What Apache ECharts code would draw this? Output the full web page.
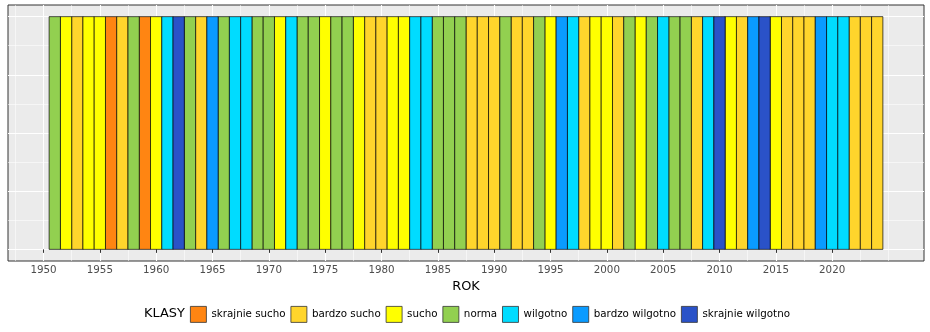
<!DOCTYPE html>
<html>
<head>
<meta charset="utf-8">
<script src="https://cdn.jsdelivr.net/npm/echarts@6/dist/echarts.min.js"></script>
<style>html,body{margin:0;padding:0;background:#fff}#c{width:930px;height:332px}</style>
</head>
<body>
<div id="c"></div>
<script>
// Class names (legend order) and colours
const classNames = ['skrajnie sucho', 'bardzo sucho', 'sucho', 'norma', 'wilgotno', 'bardzo wilgotno', 'skrajnie wilgotno'];
const classColors = ['#FF8512', '#FFD52C', '#FFFF00', '#92D050', '#00DCFF', '#0A9BFF', '#2A52C8'];
// Years and their class index (0..6)
const years = [];
for (let y = 1951; y <= 2024; y++) years.push(y);
const yearClass = [
  3, 2, 1, 2, 2, 0, 1, 3, 0, 2,   // 1951-1960
  4, 6, 3, 1, 5, 3, 4, 4, 3, 3,   // 1961-1970
  2, 4, 3, 3, 2, 3, 3, 2, 1, 1,   // 1971-1980
  2, 2, 4, 4, 3, 3, 3, 1, 1, 1,   // 1981-1990
  3, 1, 1, 3, 2, 5, 4, 1, 2, 2,   // 1991-2000
  1, 3, 2, 3, 4, 3, 3, 1, 4, 6,   // 2001-2010
  2, 1, 5, 6, 2, 1, 1, 1, 5, 4,   // 2011-2020
  4, 1, 1, 1                      // 2021-2024
];
const barValue = 1;
const xMajor = [1950, 1955, 1960, 1965, 1970, 1975, 1980, 1985, 1990, 1995, 2000, 2005, 2010, 2015, 2020];
const xMinor = [1947.5, 1952.5, 1957.5, 1962.5, 1967.5, 1972.5, 1977.5, 1982.5, 1987.5, 1992.5, 1997.5, 2002.5, 2007.5, 2012.5, 2017.5, 2022.5, 2025];
const yMajor = [0, 0.25, 0.5, 0.75, 1];
const yMinor = [0.125, 0.375, 0.625, 0.875];

const FONT = 'DejaVu Sans';

function renderBar(params, api) {
  const yr = api.value(0);
  const p0 = api.coord([yr - 0.5, api.value(1)]);
  const p1 = api.coord([yr + 0.5, 0]);
  return {
    type: 'rect',
    shape: { x: p0[0], y: p0[1], width: p1[0] - p0[0], height: p1[1] - p0[1] },
    style: { fill: api.visual('color'), stroke: 'rgba(0,0,0,0.85)', lineWidth: 0.8 }
  };
}

const series = classNames.map((name, ci) => ({
  type: 'custom',
  name: name,
  xAxisIndex: 0,
  yAxisIndex: 0,
  itemStyle: { color: classColors[ci] },
  renderItem: renderBar,
  encode: { x: 0, y: 1 },
  data: years.filter((y, i) => yearClass[i] === ci).map(y => [y, barValue])
}));

const xCommon = { type: 'value', min: 1946.85, max: 2028.15, axisLine: { show: false } };
const yCommon = { type: 'value', min: -0.05, max: 1.05, axisLine: { show: false }, axisLabel: { show: false } };

const option = {
  animation: false,
  title: {
    text: 'KLASY', left: 144, top: 307, padding: 0,
    textStyle: { fontFamily: FONT, fontSize: 12.9, fontWeight: 'normal', color: '#000' }
  },
  legend: {
    left: 190, top: 306, padding: 0,
    icon: 'rect', itemWidth: 16, itemHeight: 16, itemGap: 5,
    textStyle: { fontFamily: FONT, fontSize: 10.3, color: '#000' },
    selectedMode: false,
    data: classNames.map((n, i) => ({ name: n, itemStyle: { color: classColors[i], borderColor: '#333', borderWidth: 0.8 } }))
  },
  grid: {
    left: 8, right: 6, top: 5, bottom: 71,
    show: true, backgroundColor: '#EBEBEB', borderColor: '#333', borderWidth: 1
  },
  xAxis: [
    Object.assign({}, xCommon, {
      name: 'ROK', nameLocation: 'middle', nameGap: 14,
      nameTextStyle: { fontFamily: FONT, fontSize: 12.9, color: '#000' },
      axisTick: { show: true, length: 3.5, lineStyle: { color: '#333', width: 1 }, customValues: xMajor },
      axisLabel: { show: true, margin: 4, fontFamily: FONT, fontSize: 10.3, color: '#4D4D4D', customValues: xMajor, formatter: v => String(v) },
      splitLine: { show: true, lineStyle: { color: '#FFFFFF', width: 1.1 } }
    }),
    Object.assign({}, xCommon, {
      axisTick: { show: false, customValues: xMinor },
      axisLabel: { show: false, customValues: xMinor },
      splitLine: { show: true, lineStyle: { color: '#FFFFFF', width: 0.55 } }
    })
  ],
  yAxis: [
    Object.assign({}, yCommon, {
      axisTick: { show: false, customValues: yMajor },
      axisLabel: { show: false, customValues: yMajor },
      splitLine: { show: true, lineStyle: { color: '#FFFFFF', width: 1.1 } }
    }),
    Object.assign({}, yCommon, {
      axisTick: { show: false, customValues: yMinor },
      axisLabel: { show: false, customValues: yMinor },
      splitLine: { show: true, lineStyle: { color: '#FFFFFF', width: 0.55 } }
    })
  ],
  series: series
};

const chart = echarts.init(document.getElementById('c'), null, { renderer: 'canvas' });
chart.setOption(option);
</script>
</body>
</html>
